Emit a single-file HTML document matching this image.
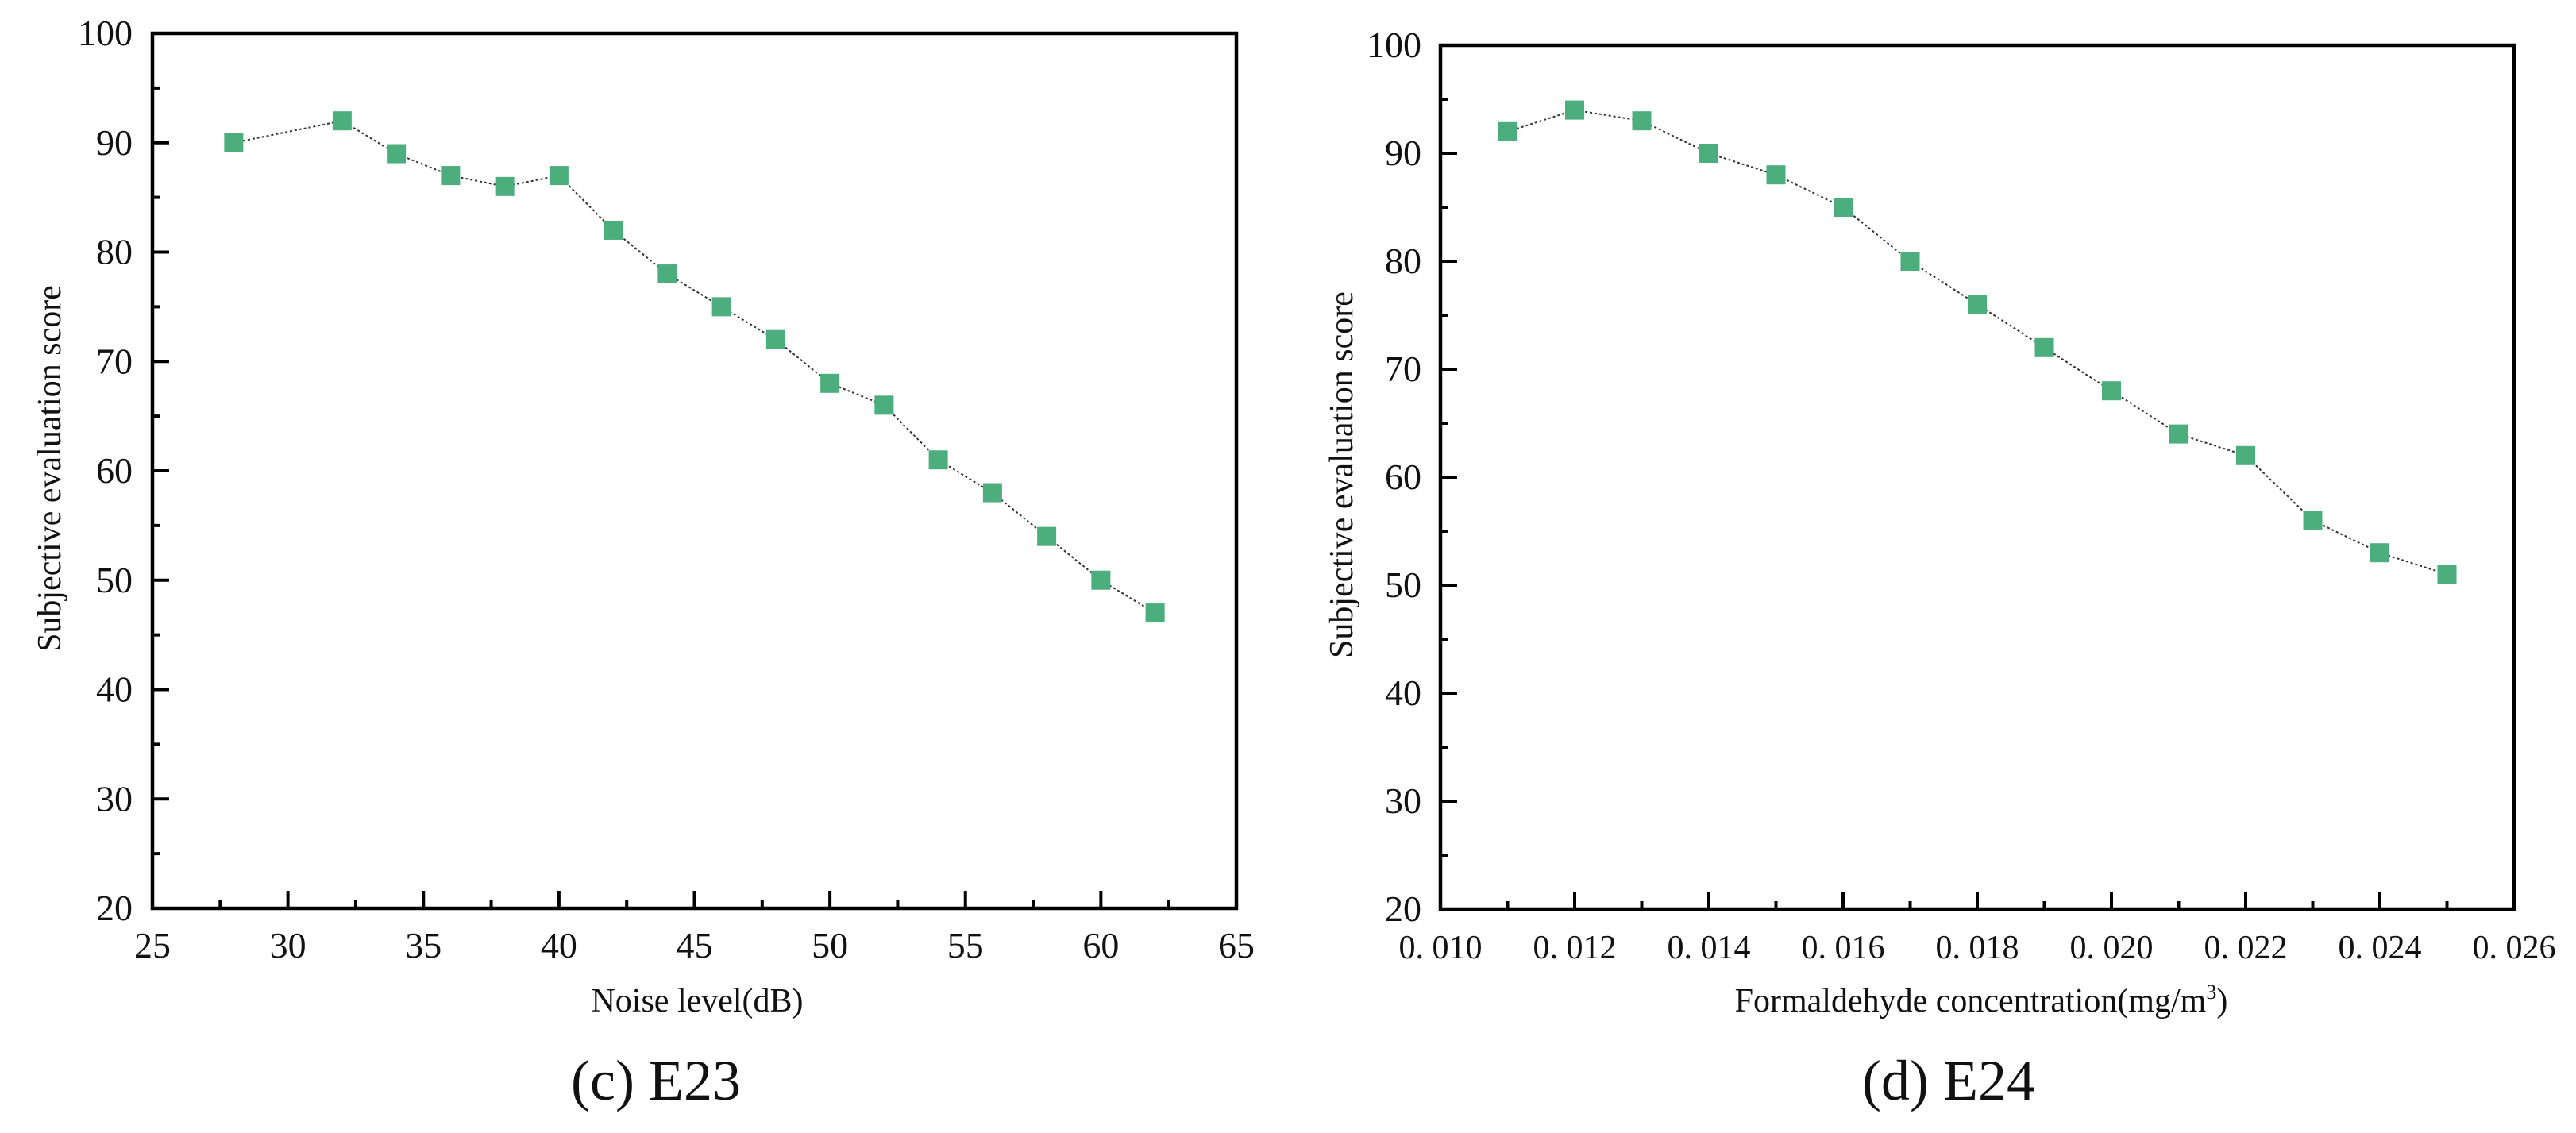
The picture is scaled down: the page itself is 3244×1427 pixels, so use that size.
<!DOCTYPE html>
<html><head><meta charset="utf-8"><style>
html,body{margin:0;padding:0;background:#fff;}
svg text{font-family:"Liberation Serif",serif;fill:#111;}
</style></head><body>
<svg id="fig" width="3244" height="1422" viewBox="0 0 3244 1422" xmlns="http://www.w3.org/2000/svg">
<rect width="3244" height="1422" fill="#fff"/>
</svg>
<script>
// Chart C (noise)
const noiseX = [28,32,34,36,38,40,42,44,46,48,50,52,54,56,58,60,62];
const noiseScore = [90,92,89,87,86,87,82,78,75,72,68,66,61,58,54,50,47];
const noiseXTicks = ["25","30","35","40","45","50","55","60","65"];
const yTicks = ["20","30","40","50","60","70","80","90","100"];
// Chart D (formaldehyde)
const formX = [0.011,0.012,0.013,0.014,0.015,0.016,0.017,0.018,0.019,0.020,0.021,0.022,0.023,0.024,0.025];
const formScore = [92,94,93,90,88,85,80,76,72,68,64,62,56,53,51];
const formXTicks = ["0. 010","0. 012","0. 014","0. 016","0. 018","0. 020","0. 022","0. 024","0. 026"];

const NS="http://www.w3.org/2000/svg";
const svg=document.getElementById('fig');
function mk(tag,attrs,parent){const e=document.createElementNS(NS,tag);for(const k in attrs)e.setAttribute(k,attrs[k]);(parent||svg).appendChild(e);return e;}

function chart(o){
  const g=mk('g',{});
  
  
  const sx=v=>o.x0+(v-o.xmin)/(o.xmax-o.xmin)*(o.x1-o.x0);
  const sy=v=>o.y1-(v-20)/80*(o.y1-o.y0);
  // y ticks
  for(let v=20;v<=100;v+=5){
    const y=sy(v);const major=(v%10===0);
    const t=mk('line',{x1:o.x0,x2:o.x0+(major?21:10),y1:y,y2:y,stroke:'#000','stroke-width':4},g);
    
    
  }
  yTicks.forEach(s=>{
    const t=mk('text',{x:o.ylabX,y:sy(+s)+15,'font-size':46,'text-anchor':'end'},g);
    t.textContent=s;
    
    
  });
  // x ticks
  const nMinor=16;
  for(let i=0;i<=nMinor;i++){
    const v=o.xmin+(o.xmax-o.xmin)*i/nMinor;const x=sx(v);const major=(i%2===0);
    const t=mk('line',{x1:x,x2:x,y1:o.y1,y2:o.y1-(major?22:10),stroke:'#000','stroke-width':4},g);
    
    
  }
  o.xticks.forEach((s,i)=>{
    const v=o.xmin+(o.xmax-o.xmin)*i/(o.xticks.length-1);
    const t=mk('text',{x:sx(v),y:o.y1+62,'font-size':o.xfs,'text-anchor':'middle'},g);
    t.textContent=s;
    
    
  });
  // frame
  const f=mk('rect',{x:o.x0,y:o.y0,width:o.x1-o.x0,height:o.y1-o.y0,fill:'none',stroke:'#000','stroke-width':4.5},g);
  
  
  // line
  const pts=o.xs.map((v,i)=>sx(v)+','+sy(o.ys[i])).join(' ');
  const pl=mk('polyline',{points:pts,fill:'none',stroke:'#333','stroke-width':2,'stroke-dasharray':'3,3'},g);
  
  
  o.xs.forEach((v,i)=>{
    const r=mk('rect',{x:sx(v)-12,y:sy(o.ys[i])-12,width:24,height:24,fill:'#4cae7d'},g);
    
    
  });
  // titles
  const yt=mk('text',{x:0,y:0,'font-size':42,'text-anchor':'middle',transform:`translate(${o.ytX},${o.ytY}) rotate(-90)`},g);
  yt.textContent='Subjective evaluation score';
  
  
  const xt=mk('text',{x:o.xtX,y:1274,'font-size':42,'text-anchor':'middle'},g);
  xt.innerHTML=o.xtitle;
  
  
  const cap=mk('text',{x:o.capX,y:1385,'font-size':72,'text-anchor':'middle'},g);
  cap.textContent=o.caption;
  
  
}
chart({name:'noise-chart',x0:192,x1:1557,y0:42,y1:1144,xmin:25,xmax:65,xs:noiseX,ys:noiseScore,xticks:noiseXTicks,xfs:46,ylabX:167,ytX:76,ytY:590,xtX:878,xtitle:'Noise level(dB)',capX:826,caption:'(c) E23'});
chart({name:'formaldehyde-chart',x0:1814,x1:3166,y0:57,y1:1145,xmin:0.010,xmax:0.026,xs:formX,ys:formScore,xticks:formXTicks,xfs:42,ylabX:1790,ytX:1703,ytY:598,xtX:2495,xtitle:'Formaldehyde concentration(mg/m<tspan font-size="26" dy="-16">3</tspan><tspan dy="16">)</tspan>',capX:2454,caption:'(d) E24'});
</script>
</body></html>
